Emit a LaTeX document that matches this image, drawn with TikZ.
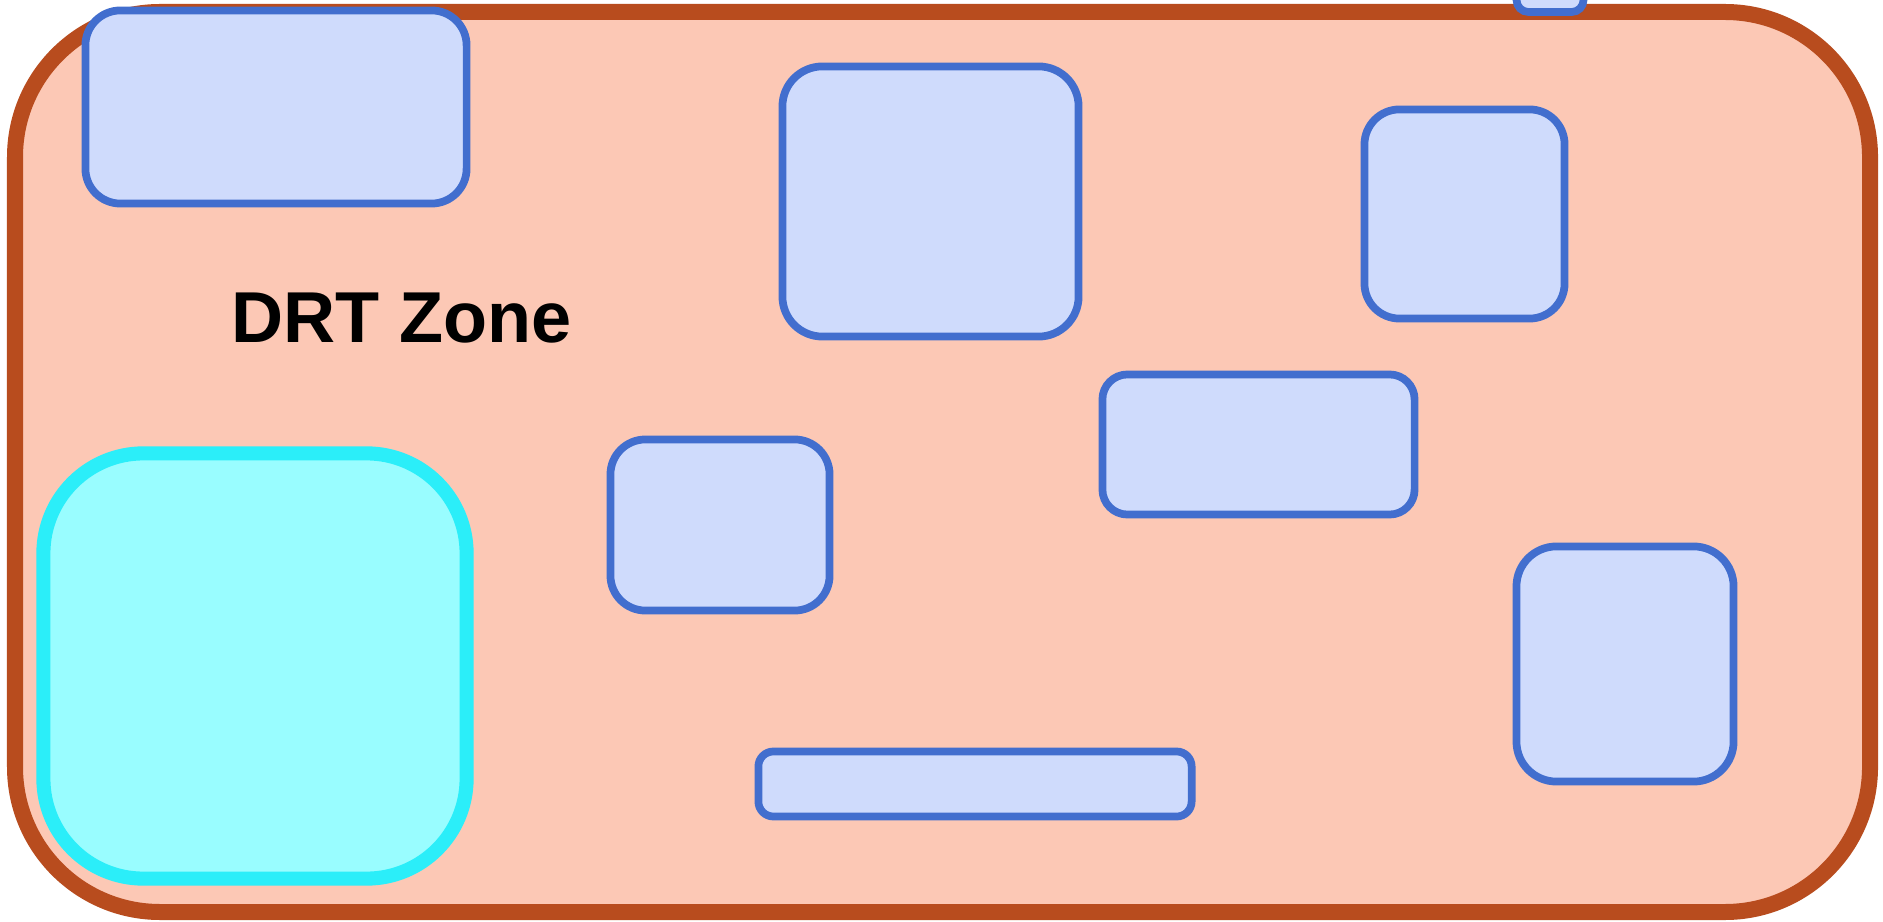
\documentclass[tikz,border=0pt]{standalone}
\usepackage{fontspec}
\setmainfont{Liberation Sans}
\usetikzlibrary{calc}
\definecolor{zonefill}{RGB}{252,200,181}
\definecolor{zoneline}{RGB}{184,76,30}
\definecolor{bfill}{RGB}{207,219,252}
\definecolor{bline}{RGB}{66,110,206}
\definecolor{bhi}{RGB}{225,235,255}
\definecolor{cfill}{RGB}{153,253,255}
\definecolor{cline}{RGB}{43,238,249}
\tikzset{
  zone/.style={draw=zoneline, fill=zonefill, line width=4.55pt, rounded corners=1.45cm},
  bluebox/.style={draw=bline, fill=bfill, line width=2.2pt, rounded corners=#1, inner sep=0pt,
    append after command={
      \pgfextra{\draw[bhi, line width=0.7pt, rounded corners=#1]
        ($(\tikzlastnode.north west)+(0.07cm,-0.07cm)$) rectangle ($(\tikzlastnode.south east)+(-0.07cm,0.07cm)$);}
    }},
  bluebox/.default=0.35cm,
  cyanbox/.style={draw=cline, fill=cfill, line width=4pt, rounded corners=1cm, inner sep=0pt},
  title/.style={font=\bfseries\fontsize{20.5pt}{24pt}\selectfont, inner sep=0pt, anchor=base west}
}
\begin{document}
\begin{tikzpicture}[x=0.01cm, y=-0.01cm]
\useasboundingbox (0,0) rectangle (1883,922);
\fill[white] (0,0) rectangle (1883,922);
\draw[zone] (15,12) rectangle (1870,912);
\node[title] (lbl) at (231,343) {DRT Zone};
\node[bluebox, minimum width=3.81cm, minimum height=1.93cm] (b1) at (276,107) {};
\node[bluebox=0.4cm, minimum width=2.96cm, minimum height=2.70cm] (b2) at (930.5,201.5) {};
\node[bluebox, minimum width=2.00cm, minimum height=2.09cm] (b3) at (1464.5,214) {};
\node[bluebox=0.25cm, minimum width=3.12cm, minimum height=1.40cm] (b4) at (1258.5,444.5) {};
\node[bluebox, minimum width=2.19cm, minimum height=1.71cm] (b5) at (720,525) {};
\node[bluebox=0.4cm, minimum width=2.17cm, minimum height=2.35cm] (b6) at (1625,664) {};
\node[bluebox=0.15cm, minimum width=4.33cm, minimum height=0.65cm] (b7) at (975,784) {};
\node[bluebox=0.12cm, minimum width=0.67cm, minimum height=0.48cm] (b8) at (1550,-12) {};
\node[cyanbox, minimum width=4.23cm, minimum height=4.25cm] (c1) at (255,666) {};
\end{tikzpicture}
\end{document}
